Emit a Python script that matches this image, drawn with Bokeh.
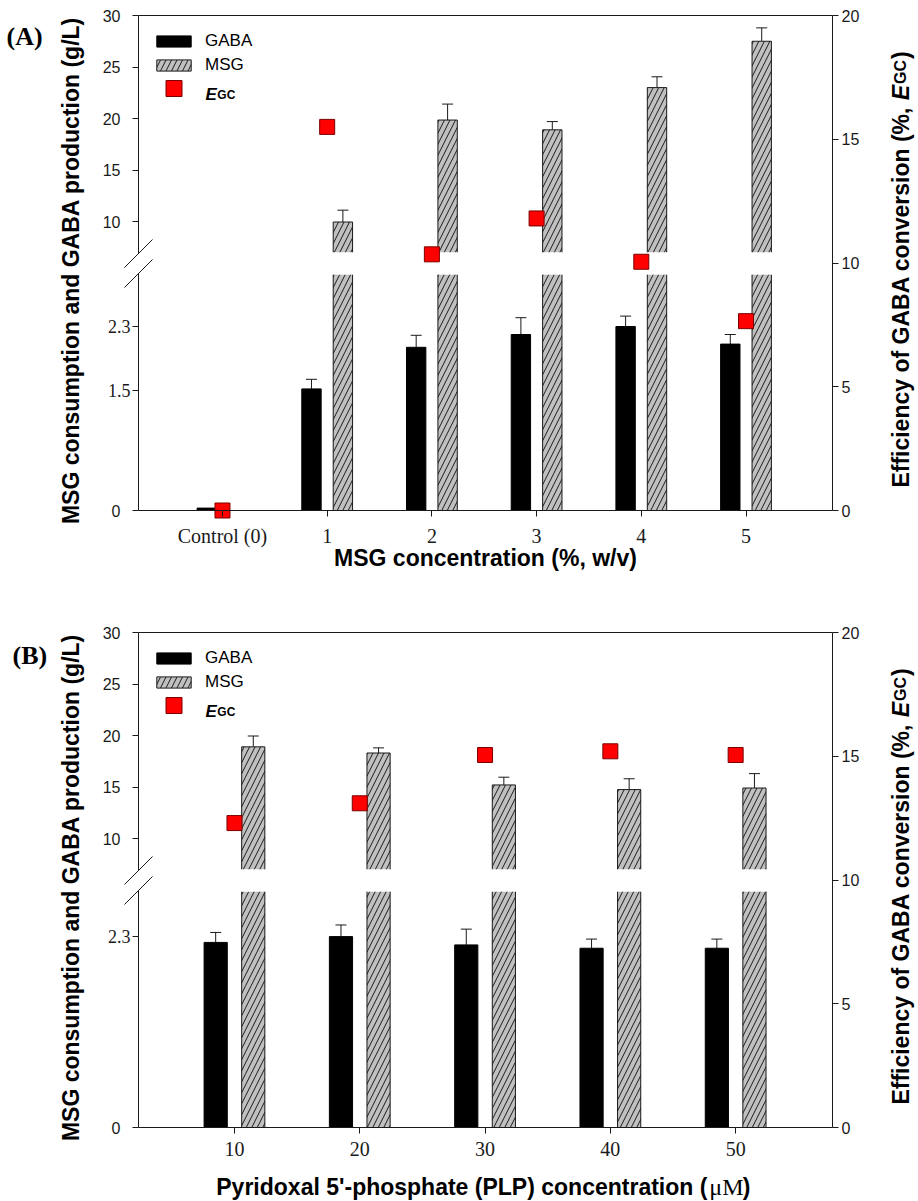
import numpy as np
from bokeh.plotting import figure
from bokeh.models import (Range1d, LinearAxis, FixedTicker, ColumnDataSource, Whisker,
                          TeeHead, Legend, LegendItem, Label, Arrow)
from bokeh.layouts import column
from bokeh.embed import file_html
from bokeh.resources import INLINE

# ---------------- data ----------------
A_CATEGORIES = ["Control (0)", "1", "2", "3", "4", "5"]
A_GABA = [0.03, 1.52, 2.04, 2.20, 2.30, 2.08]
A_GABA_ERR = [0.0, 0.12, 0.15, 0.21, 0.13, 0.12]
A_MSG = [0.0, 9.95, 19.85, 18.9, 23.0, 27.5]
A_MSG_ERR = [0.0, 1.15, 1.55, 0.8, 1.05, 1.3]
A_EGC = [0.0, 15.5, 10.35, 11.8, 10.05, 7.65]

B_CATEGORIES = ["10", "20", "30", "40", "50"]
B_GABA = [2.23, 2.30, 2.20, 2.16, 2.16]
B_GABA_ERR = [0.12, 0.14, 0.19, 0.11, 0.11]
B_MSG = [18.9, 18.3, 15.2, 14.75, 14.9]
B_MSG_ERR = [1.05, 0.5, 0.75, 1.05, 1.4]
B_EGC = [12.3, 13.1, 15.05, 15.2, 15.05]

A_LEFT_LOW_TICKS = [0, 1.5, 2.3]
B_LEFT_LOW_TICKS = [0, 2.3]
LEFT_HIGH_TICKS = [10, 15, 20, 25, 30]
RIGHT_TICKS = [0, 5, 10, 15, 20]

# ---------------- layout / style ----------------
FIG_W = 918
DATA_L = 138          # canvas x of the left axis
DATA_R = 86           # space right of the right axis
DATA_H = 495
DATA_W = FIG_W - DATA_L - DATA_R
GAP_LO_PX = 237
GAP_HI_PX = 257
HIGH_PPU = 10.3
HIGH_TOP = 30.0
EGC_MAX = 20.0
BAR_OFF = 0.15
BAR_W = 0.185
TITLE_CENTER_U = 240  # px above the x axis where the vertical titles are centred
SANS = "Liberation Sans"
SERIF = "Liberation Serif"
INK = "#1a1a1a"

# Helvetica-Bold advance widths (1/1000 em) for width estimates of composed labels
HB = {' ': 278, '(': 333, ')': 333, '%': 889, ',': 278, '-': 333, "'": 238, '/': 278, '5': 556,
      'A': 722, 'B': 722, 'C': 722, 'E': 667, 'G': 778, 'L': 611, 'M': 833, 'P': 667, 'S': 667,
      'a': 556, 'c': 556, 'd': 611, 'e': 556, 'f': 333, 'h': 611, 'i': 278, 'l': 278, 'n': 611,
      'o': 611, 'p': 611, 'r': 389, 's': 556, 't': 333, 'u': 611, 'v': 556, 'w': 778, 'x': 556,
      'y': 556}
TR = {'μ': 500, 'M': 889, ' ': 250}


def tw(s, size, table=HB):
    return sum(table.get(c, 556) for c in s) / 1000.0 * size


def make_panel(cats, gaba, gaba_err, msg, msg_err, egc, low_ticks, low_ppu,
               pad_l, pad_r, top_px, fig_h, letter, letter_canvas,
               xlabel=None, xlabel_parts=None):
    n = len(cats)
    xs, xe = -pad_l, n - 1 + pad_r
    pxu = DATA_W / (xe - xs)
    bot_px = fig_h - top_px - DATA_H
    egc_ppu = DATA_H / EGC_MAX
    high_start = HIGH_TOP - DATA_H / HIGH_PPU
    low_break = GAP_LO_PX / low_ppu
    high_break = high_start + GAP_HI_PX / HIGH_PPU

    def fx(px):          # px to the right of the left axis
        return xs + px / pxu

    def fy(u):           # px above the x axis, in E_GC units
        return u / egc_ppu

    def cu(cy):          # canvas y -> px above the x axis
        return top_px + DATA_H - cy

    p = figure(width=FIG_W, height=fig_h,
               x_range=Range1d(xs - DATA_L / pxu, xe + DATA_R / pxu),
               y_range=Range1d(-bot_px / egc_ppu, EGC_MAX + top_px / egc_ppu),
               x_axis_location=None, y_axis_location=None,
               output_backend="svg", toolbar_location=None, min_border=0)
    p.extra_y_ranges = {
        "low": Range1d(-bot_px / low_ppu, (DATA_H + top_px) / low_ppu),
        "high": Range1d(high_start - bot_px / HIGH_PPU, HIGH_TOP + top_px / HIGH_PPU),
    }
    p.grid.visible = False
    p.outline_line_color = None
    p.background_fill_color = "white"
    p.border_fill_color = "white"
    p.title.visible = False

    x = np.arange(n, dtype=float)
    gaba = np.asarray(gaba, float)
    gaba_err = np.asarray(gaba_err, float)
    msg = np.asarray(msg, float)
    msg_err = np.asarray(msg_err, float)

    g_src = ColumnDataSource(dict(x=x - BAR_OFF, top=gaba))
    he = gaba_err > 0
    ge_src = ColumnDataSource(dict(x=(x - BAR_OFF)[he], top=gaba[he], up=(gaba + gaba_err)[he]))
    m = msg > 0
    k = int(m.sum())
    mx = (x + BAR_OFF)[m]
    m_src = ColumnDataSource(dict(x=mx, brk_lo=np.full(k, low_break),
                                  brk_hi=np.full(k, high_break), top=msg[m],
                                  up=(msg + msg_err)[m]))
    e_src = ColumnDataSource(dict(x=x, egc=np.asarray(egc, float)))

    gaba_r = p.vbar(x="x", top="top", bottom=0, width=BAR_W, source=g_src, y_range_name="low",
                    fill_color="black", line_color="black")
    hatch = dict(fill_color="#c0c0c0", line_color=INK, line_width=1, hatch_pattern="/",
                 hatch_color=INK, hatch_scale=11, hatch_weight=1)
    # MSG bars: lower and upper pieces of the broken bar
    p.vbar(x="x", top="brk_lo", bottom=0, width=BAR_W, source=m_src, y_range_name="low", **hatch)
    msg_r = p.vbar(x="x", top="top", bottom="brk_hi", width=BAR_W, source=m_src,
                   y_range_name="high", **hatch)
    # white band of the axis break across each broken bar
    hw = BAR_W / 2 + 1.5 / pxu
    p.quad(left=mx - hw, right=mx + hw, bottom=fy(GAP_LO_PX - 1.2), top=fy(GAP_HI_PX + 1.2),
           fill_color="white", line_color=None)

    p.add_layout(Whisker(source=ge_src, base="x", lower="top", upper="up", y_range_name="low",
                         lower_head=None, upper_head=TeeHead(size=11, line_color=INK, line_width=1),
                         line_color=INK, line_width=1))
    p.add_layout(Whisker(source=m_src, base="x", lower="top", upper="up", y_range_name="high",
                         lower_head=None, upper_head=TeeHead(size=11, line_color=INK, line_width=1),
                         line_color=INK, line_width=1))
    egc_r = p.scatter(x="x", y="egc", source=e_src, marker="square", size=15,
                      fill_color="#ff0000", line_color="#7a0000", line_width=1)

    # ---- left broken axis ----
    high_pos = [(v - high_start) * HIGH_PPU / low_ppu for v in LEFT_HIGH_TICKS]
    overrides = {}
    for t in low_ticks:
        overrides[t] = "0" if t == 0 else ""
    for v, pos in zip(LEFT_HIGH_TICKS, high_pos):
        overrides[pos] = str(v)
    span = 2 * (DATA_H - TITLE_CENTER_U)
    left = LinearAxis(y_range_name="low", fixed_location=xs,
                      bounds=((DATA_H - span) / low_ppu, DATA_H / low_ppu),
                      ticker=FixedTicker(ticks=list(low_ticks) + high_pos),
                      major_label_overrides=overrides, axis_line_color=None,
                      major_tick_out=6, major_tick_in=0, major_tick_line_color=INK,
                      minor_tick_line_color=None, major_label_standoff=12,
                      major_label_text_font=SANS, major_label_text_font_size="16px",
                      major_label_text_color=INK,
                      axis_label="MSG consumption and GABA production (g/L)",
                      axis_label_text_font=SANS, axis_label_text_font_style="bold",
                      axis_label_text_font_size="23px", axis_label_standoff=16,
                      axis_label_text_color="black")
    p.add_layout(left, "left")
    for t in low_ticks:
        if t != 0:
            p.add_layout(Label(x=fx(-8), y=t, y_range_name="low", text=str(t),
                               text_align="right", text_baseline="middle",
                               text_font=SERIF, text_font_size="18px", text_color=INK))
    for y0, y1 in [(0, GAP_LO_PX), (GAP_HI_PX, DATA_H)]:
        p.add_layout(Arrow(end=None, x_start=xs, y_start=fy(y0), x_end=xs, y_end=fy(y1),
                           line_color=INK, line_width=1))
    for g in (GAP_LO_PX, GAP_HI_PX):
        p.add_layout(Arrow(end=None, x_start=fx(-14), y_start=fy(g - 14), x_end=fx(14),
                           y_end=fy(g + 14), line_color=INK, line_width=1))

    # ---- right axis and top border ----
    right = LinearAxis(fixed_location=xe, bounds=(0, EGC_MAX),
                       ticker=FixedTicker(ticks=RIGHT_TICKS), axis_line_color=INK,
                       major_tick_out=6, major_tick_in=0, major_tick_line_color=INK,
                       minor_tick_line_color=None, major_label_standoff=3,
                       major_label_text_font=SANS, major_label_text_font_size="16px",
                       major_label_text_color=INK)
    p.add_layout(right, "right")
    p.add_layout(Arrow(end=None, x_start=xs, y_start=EGC_MAX, x_end=xe, y_end=EGC_MAX,
                       line_color=INK, line_width=1))

    # ---- bottom axis ----
    bottom = LinearAxis(fixed_location=0, bounds=(xs, xe),
                        ticker=FixedTicker(ticks=list(range(n))),
                        major_label_overrides={i: c for i, c in enumerate(cats)},
                        axis_line_color=INK, major_tick_out=6, major_tick_in=0,
                        major_tick_line_color=INK, minor_tick_line_color=None,
                        major_label_standoff=8, major_label_text_font=SERIF,
                        major_label_text_font_size="20px", major_label_text_color=INK)
    if xlabel:
        bottom.axis_label = xlabel
        bottom.axis_label_text_font = SANS
        bottom.axis_label_text_font_style = "bold"
        bottom.axis_label_text_font_size = "23px"
        bottom.axis_label_standoff = -5
        bottom.axis_label_text_color = "black"
    p.add_layout(bottom, "below")

    if xlabel_parts:
        main, unit, tail = xlabel_parts
        w1 = tw(main, 23)
        w2 = tw(unit, 24, TR)
        w3 = tw(tail, 23)
        start = DATA_W / 2 - (w1 + w2 + w3) / 2
        q = start + w1
        yb = fy(-59)
        p.add_layout(Label(x=fx(q), y=yb, text=main, text_align="right",
                           text_baseline="alphabetic", text_font=SANS,
                           text_font_style="bold", text_font_size="23px", text_color="black"))
        p.add_layout(Label(x=fx(q + 2), y=yb, text=unit, text_align="left",
                           text_baseline="alphabetic", text_font=SERIF,
                           text_font_size="24px", text_color="black"))
        p.add_layout(Label(x=fx(q + 2 + w2), y=yb, text=tail, text_align="left",
                           text_baseline="alphabetic", text_font=SANS,
                           text_font_style="bold", text_font_size="23px", text_color="black"))

    # ---- right title: Efficiency of GABA conversion (%, E_GC) ----
    t1 = "Efficiency of GABA conversion (%, "
    w1 = tw(t1, 23)
    wE = tw("E", 23)
    wGC = tw("GC", 16)
    start = TITLE_CENTER_U - (w1 + wE + wGC + tw(")", 23)) / 2
    q = start + w1
    common = dict(x=fx(DATA_W + 68), angle=np.pi / 2, text_baseline="alphabetic",
                  text_font=SANS, text_color="black")
    p.add_layout(Label(y=fy(q), text=t1, text_align="right", text_font_style="bold",
                       text_font_size="23px", **common))
    p.add_layout(Label(y=fy(q), text="E", text_align="left", text_font_style="bold italic",
                       text_font_size="23px", **common))
    p.add_layout(Label(y=fy(q + wE + 1), text="GC", text_align="left", text_font_style="bold",
                       text_font_size="16px", **common))
    p.add_layout(Label(y=fy(q + wE + wGC + 2), text=")", text_align="left",
                       text_font_style="bold", text_font_size="23px", **common))

    # ---- panel letter ----
    p.add_layout(Label(x=fx(letter_canvas[0] - DATA_L), y=fy(cu(letter_canvas[1])), text=letter,
                       text_align="left", text_baseline="middle", text_font=SERIF,
                       text_font_style="bold", text_font_size="26px", text_color="black"))

    # ---- legend ----
    leg1 = Legend(items=[LegendItem(label="GABA", renderers=[gaba_r]),
                         LegendItem(label="MSG", renderers=[msg_r])],
                  location=(DATA_L + 14, fig_h - (top_px + 16 + 44)), orientation="vertical",
                  glyph_width=43, glyph_height=14, label_height=20, spacing=4,
                  padding=0, margin=0, label_standoff=10, label_text_font=SANS,
                  label_text_font_size="17px", label_text_color="black",
                  border_line_color=None, background_fill_alpha=0)
    p.add_layout(leg1)
    leg2 = Legend(items=[LegendItem(label=" ", renderers=[egc_r])],
                  location=(DATA_L + 14, fig_h - (top_px + 73 + 20)), orientation="vertical",
                  glyph_width=43, glyph_height=40, label_height=40, spacing=0,
                  padding=0, margin=0, label_standoff=10, label_text_font=SANS,
                  label_text_font_size="17px", border_line_color=None,
                  background_fill_alpha=0)
    p.add_layout(leg2)
    ly = fy(DATA_H - 79)
    p.add_layout(Label(x=fx(67), y=ly, text="E", text_align="left", text_baseline="alphabetic",
                       text_font=SANS, text_font_style="bold italic", text_font_size="17px",
                       text_color="black"))
    p.add_layout(Label(x=fx(67 + tw("E", 17) + 0.5), y=ly, text="GC", text_align="left",
                       text_baseline="alphabetic", text_font=SANS, text_font_style="bold",
                       text_font_size="12px", text_color="black"))
    return p


pa = make_panel(A_CATEGORIES, A_GABA, A_GABA_ERR, A_MSG, A_MSG_ERR, A_EGC, A_LEFT_LOW_TICKS,
                80.0, 0.802, 0.826, 15, 600, "(A)", (6, 36),
                xlabel="MSG concentration (%, w/v)")
pb = make_panel(B_CATEGORIES, B_GABA, B_GABA_ERR, B_MSG, B_MSG_ERR, B_EGC, B_LEFT_LOW_TICKS,
                83.0, 0.766, 0.773, 32, 601, "(B)", (12, 655 - 600),
                xlabel_parts=("Pyridoxal 5'-phosphate (PLP) concentration (", "μM", " )"))

layout = column(pa, pb, spacing=0)
open("out.html", "w").write(file_html(layout, INLINE))
